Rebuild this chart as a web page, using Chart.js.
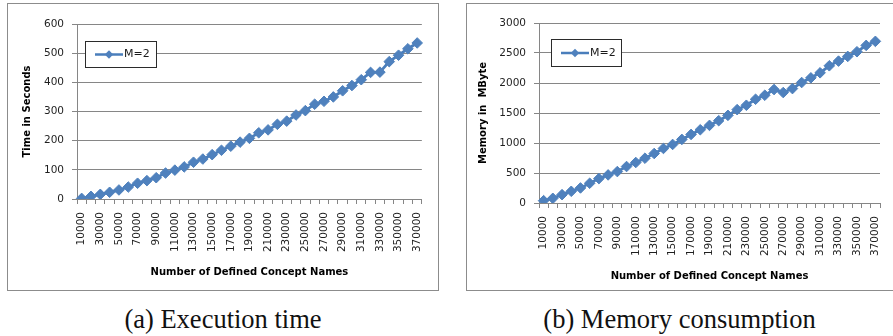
<!DOCTYPE html>
<html><head><meta charset="utf-8">
<script src="https://cdn.jsdelivr.net/npm/chart.js@4.4.0/dist/chart.umd.min.js"></script>
<style>
html,body{margin:0;padding:0;background:#fff;}
body{width:893px;height:336px;overflow:hidden;position:relative;}
.panel{position:absolute;border:1px solid #8c8c8c;background:#fff;}
.panel canvas{display:block;}
.cap{position:absolute;font-family:"Liberation Serif",serif;font-size:26.5px;line-height:26.5px;text-align:center;color:#111;white-space:nowrap;}
</style></head><body>
<div class="panel" style="left:7px;top:3px;width:430px;height:286px;"><canvas id="ca" width="430" height="286"></canvas></div>
<div class="panel" style="left:466px;top:3px;width:444px;height:286px;"><canvas id="cb" width="444" height="286"></canvas></div>
<div class="cap" style="left:0px;top:306px;width:446px;">(a) Execution time</div>
<div class="cap" style="left:456px;top:306px;width:447px;">(b) Memory consumption</div>
<script>
const categories = [10000,20000,30000,40000,50000,60000,70000,80000,90000,100000,110000,120000,130000,140000,150000,160000,170000,180000,190000,200000,210000,220000,230000,240000,250000,260000,270000,280000,290000,300000,310000,320000,330000,340000,350000,360000,370000];
const seriesLabel = 'M=2';
const timeSeconds = [2,9,16,23,31,41,54,63,73,89,99,110,126,137,152,167,181,195,208,227,237,256,267,288,303,325,335,350,371,389,409,434,435,471,493,515,535];
const memoryMByte = [39,78,139,195,251,329,407,468,524,608,675,747,825,909,976,1060,1143,1221,1294,1372,1461,1556,1629,1729,1796,1891,1841,1907,2008,2086,2170,2287,2365,2443,2521,2627,2694];
const timeTicks = [0,100,200,300,400,500,600];
const memoryTicks = [0,500,1000,1500,2000,2500,3000];
const xTitle = 'Number of Defined Concept Names';

const GRID = '#868686';
const TICK = '#1f1f1f';
const LINE = '#4a7ebb';
const MARK = '#4f81bd';

const boxLegend = {
  id: 'boxLegend',
  afterDatasetsDraw(chart, args, o) {
    const {ctx, chartArea: a} = chart;
    const ds = chart.data.datasets[0];
    const x = Math.round(a.left + o.dx), y = Math.round(a.top + o.dy);
    ctx.save();
    ctx.fillStyle = '#fff';
    ctx.fillRect(x, y, o.w, o.h);
    ctx.strokeStyle = '#2b2b2b';
    ctx.lineWidth = 1;
    ctx.strokeRect(x + 0.5, y + 0.5, o.w, o.h);
    const cy = y + o.h / 2 + 0.5;
    ctx.strokeStyle = LINE;
    ctx.lineWidth = 2.5;
    ctx.beginPath(); ctx.moveTo(x + o.l0, cy); ctx.lineTo(x + o.l1, cy); ctx.stroke();
    const mx = x + (o.l0 + o.l1) / 2, r = 4.2;
    ctx.fillStyle = MARK;
    ctx.beginPath(); ctx.moveTo(mx, cy - r); ctx.lineTo(mx + r, cy); ctx.lineTo(mx, cy + r); ctx.lineTo(mx - r, cy); ctx.closePath(); ctx.fill();
    ctx.font = '11px "DejaVu Sans"';
    ctx.fillStyle = '#1a1a1a';
    ctx.textBaseline = 'middle';
    ctx.textAlign = 'left';
    ctx.fillText(ds.label, x + o.tx, cy);
    ctx.restore();
  }
};

function makeChart(id, values, yTicks, yTitle, p) {
  return new Chart(document.getElementById(id), {
    type: 'line',
    data: {
      labels: categories.map(String),
      datasets: [{
        label: seriesLabel,
        data: values,
        borderColor: LINE,
        borderWidth: 2.8,
        backgroundColor: MARK,
        pointStyle: 'rectRot',
        pointRadius: 5.3,
        pointBorderWidth: 1,
        pointBorderColor: MARK,
        pointBackgroundColor: MARK,
        tension: 0,
        fill: false
      }]
    },
    options: {
      responsive: false,
      animation: false,
      devicePixelRatio: 1,
      layout: {padding: {top: p.pt, right: p.pr, left: 0, bottom: 0}},
      plugins: {
        legend: {display: false},
        tooltip: {enabled: false},
        boxLegend: p.legend
      },
      scales: {
        x: {
          type: 'category',
          offset: true,
          grid: {display: true, offset: true, drawOnChartArea: false, drawTicks: true, tickLength: 5, color: GRID, lineWidth: 1},
          border: {display: true, color: GRID},
          ticks: {
            autoSkip: false, minRotation: 90, maxRotation: 90, padding: p.xtp,
            color: TICK, font: {family: 'DejaVu Sans', size: 10.5},
            callback: function (v, i) { return i % 2 === 0 ? this.getLabelForValue(v) : ''; }
          },
          title: {display: true, text: xTitle, color: '#000', font: {family: 'DejaVu Sans', size: 10, weight: 'bold'}, padding: {top: 0, bottom: p.xtb}},
          afterFit(s) { s.height = p.xh; }
        },
        y: {
          min: yTicks[0],
          max: yTicks[yTicks.length - 1],
          ticks: {stepSize: yTicks[1] - yTicks[0], padding: 8, color: TICK, font: {family: 'DejaVu Sans', size: 10.5},
                  callback: (v) => String(v)},
          grid: {color: GRID, lineWidth: 1, tickLength: 5, drawTicks: true},
          border: {display: true, color: GRID},
          title: {display: true, text: yTitle, color: '#000', font: {family: 'DejaVu Sans', size: 10, weight: 'bold'}, padding: {top: p.ytp, bottom: 0}},
          afterFit(s) { s.width = p.yw; }
        }
      }
    },
    plugins: [boxLegend]
  });
}

makeChart('ca', timeSeconds, timeTicks, 'Time in Seconds',
  {pt: 20, pr: 15, yw: 69, xh: 91, xtp: 8, xtb: 12, ytp: 13.5,
   legend: {dx: 8, dy: 17, w: 71, h: 26, l0: 10, l1: 38, tx: 39}});
makeChart('cb', memoryMByte, memoryTicks, 'Memory in  MByte',
  {pt: 19, pr: 31, yw: 72, xh: 87, xtp: 8, xtb: 8, ytp: 10,
   legend: {dx: 12, dy: 16, w: 70, h: 27, l0: 10, l1: 38, tx: 39}});
</script>
</body></html>
